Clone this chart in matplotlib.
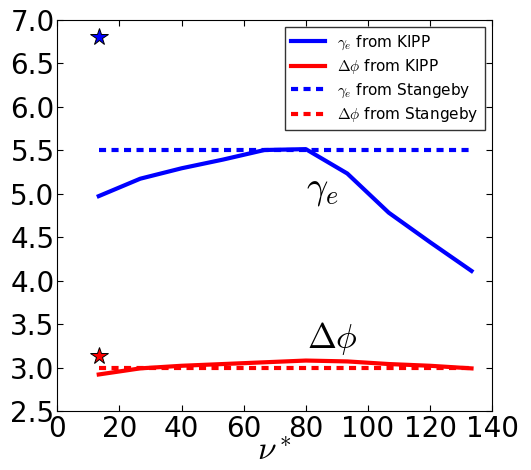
import matplotlib
matplotlib.use("Agg")
import matplotlib.pyplot as plt

plt.rcParams['mathtext.fontset'] = 'cm'

nu = [13.33, 26.67, 40.0, 53.33, 66.67, 80.0, 93.33, 106.67, 120.0, 133.33]
gamma_kipp = [4.97, 5.17, 5.29, 5.39, 5.50, 5.51, 5.23, 4.78, 4.44, 4.11]
dphi_kipp = [2.92, 2.99, 3.02, 3.04, 3.06, 3.08, 3.07, 3.04, 3.02, 2.99]
gamma_stangeby = [5.5] * len(nu)
dphi_stangeby = [3.0] * len(nu)
star_nu = 13.33
star_gamma = 6.8
star_dphi = 3.13

fig = plt.figure(figsize=(5.31, 4.70), dpi=100)
ax = fig.add_axes([0.108, 0.1255, 0.819, 0.833])

ax.plot(nu, gamma_kipp, color='b', lw=3, label=r'$\gamma_e$ from KIPP')
ax.plot(nu, dphi_kipp, color='r', lw=3, label=r'$\Delta\phi$ from KIPP')
ax.plot(nu, gamma_stangeby, color='b', lw=3, ls='--', dashes=(1.7, 1.3),
        label=r'$\gamma_e$ from Stangeby')
ax.plot(nu, dphi_stangeby, color='r', lw=3, ls='--', dashes=(1.7, 1.3),
        label=r'$\Delta\phi$ from Stangeby')
ax.plot(star_nu, star_gamma, marker='*', ms=13, color='b', mec='k', mew=0.7)
ax.plot(star_nu, star_dphi, marker='*', ms=13, color='r', mec='k', mew=0.7)

ax.text(80, 5.04, r'$\gamma_e$', fontsize=27, va='center')
ax.text(80.5, 3.33, r'$\Delta\phi$', fontsize=25, va='center')

ax.set_xlim(0, 140)
ax.set_ylim(2.5, 7.0)
ax.set_xticks(range(0, 141, 20))
ax.set_yticks([2.5, 3.0, 3.5, 4.0, 4.5, 5.0, 5.5, 6.0, 6.5, 7.0])
ax.tick_params(direction='in', top=True, right=True, labelsize=20, length=4)
ax.tick_params(axis='y', pad=2)
ax.tick_params(axis='x', pad=3)
ax.set_xlabel(r'$\nu^*$', fontsize=24, labelpad=-6)

leg = ax.legend(loc='upper right', fontsize=11, fancybox=False, handlelength=2.2,
                borderaxespad=0.5, labelspacing=0.35)
leg.get_frame().set_edgecolor('k')

fig.savefig('out.png', dpi=100)
